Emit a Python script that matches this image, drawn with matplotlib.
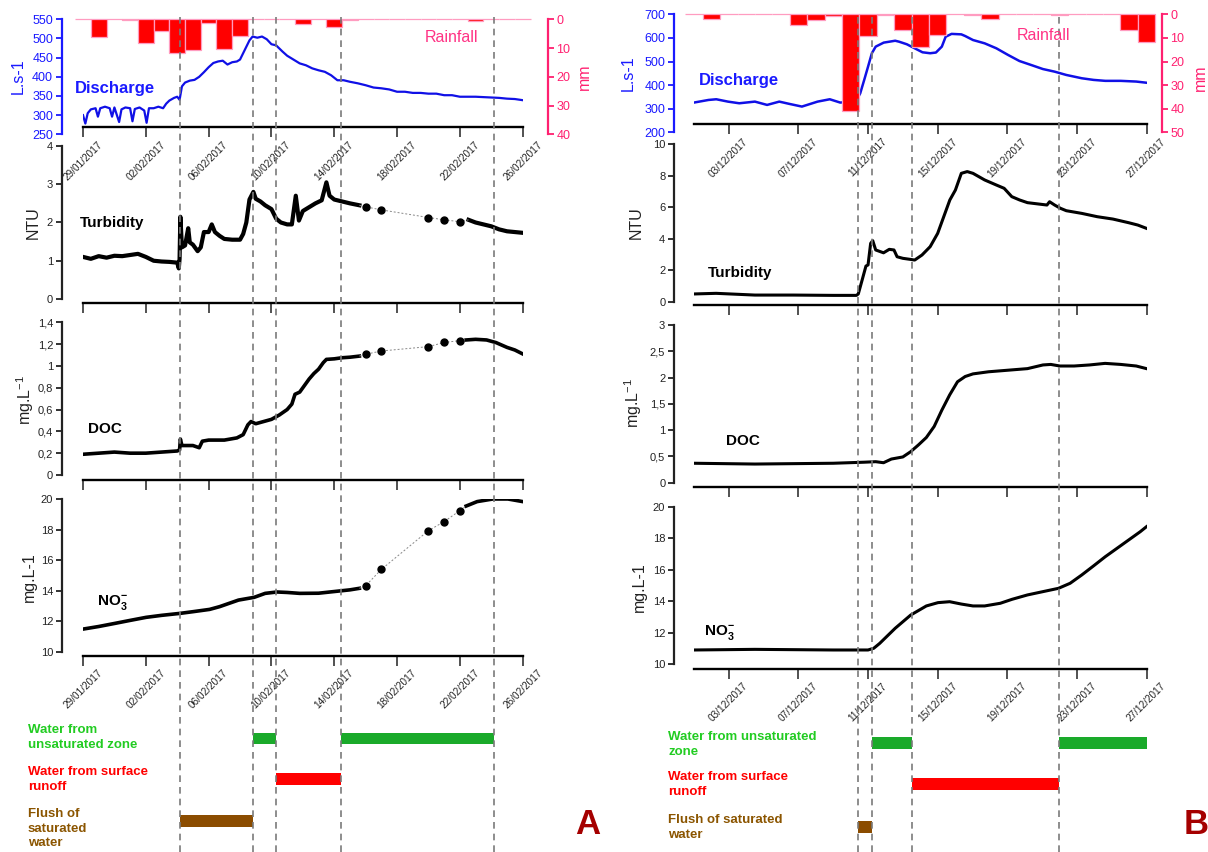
import matplotlib
matplotlib.use('Agg')
import matplotlib.pyplot as plt
import numpy as np

plt.rcParams['font.family'] = ['Liberation Sans', 'DejaVu Sans']
plt.rcParams['mathtext.fontset'] = 'custom'
plt.rcParams['mathtext.rm'] = 'Liberation Sans'
plt.rcParams['mathtext.bf'] = 'Liberation Sans:bold'
W, H = 1208, 852
fig = plt.figure(figsize=(W / 100, H / 100), dpi=100)

# ---------------- DATA : panel A (days since 29/01/2017) ----------------
ticks_A = [0, 4, 8, 12, 16, 20, 24, 28]
ticklabels_A = ['29/01/2017', '02/02/2017', '06/02/2017', '10/02/2017',
                '14/02/2017', '18/02/2017', '22/02/2017', '26/02/2017']
rain_A = [0, 6.0, 0, 0.2, 8.3, 4.0, 11.6, 10.6, 1.2, 10.2, 5.7, 0, 0, 0, 1.5,
          0, 2.6, 0.3, 0, 0, 0, 0, 0, 0, 0, 0.6, 0, 0, 0]
dis_A_day = [0, 0.15, 0.3, 0.5, 0.8, 0.95, 1.1, 1.4, 1.7, 1.85, 2.0, 2.3, 2.45, 2.7,
             3.0, 3.15, 3.3, 3.6, 3.9, 4.05, 4.2, 4.5, 4.8, 5.1, 5.3, 5.5, 5.8, 6.0,
             6.15, 6.3, 6.5, 6.8, 7.1, 7.4, 7.7, 8.0, 8.3, 8.6, 8.9, 9.2, 9.5, 9.8,
             10.0, 10.3, 10.6, 10.8, 11.1, 11.4, 11.7, 12.0, 12.3, 12.7, 13.0, 13.4,
             13.8, 14.2, 14.6, 15.0, 15.4, 15.8, 16.2, 16.6, 17.0, 17.5, 18.0, 18.5,
             19.0, 19.5, 20.0, 20.5, 21.0, 21.5, 22.0, 22.5, 23.0, 23.5, 24.0, 24.5,
             25.0, 25.5, 26.0, 26.5, 27.0, 27.5, 28.0]
dis_A = [300, 278, 305, 315, 318, 296, 318, 322, 318, 296, 320, 282, 315, 320,
         318, 284, 316, 320, 312, 280, 318, 318, 322, 318, 330, 338, 345, 348,
         340, 375, 385, 390, 392, 400, 412, 425, 436, 440, 442, 432, 438, 440,
         445, 470, 495, 505, 502, 505, 498, 485, 482, 466, 455, 445,
         435, 430, 422, 417, 413, 404, 391, 391, 387, 383, 378, 372,
         370, 367, 361, 361, 358, 358, 356, 356, 352, 352, 348, 348,
         348, 347, 346, 345, 343, 342, 339]

turb_A1_day = [0, 0.5, 1.0, 1.5, 2.0, 2.5, 3.0, 3.5, 4.0, 4.5, 5.0, 5.5, 6.0, 6.1,
               6.15, 6.2, 6.3, 6.5, 6.7, 6.8, 7.0, 7.3, 7.5, 7.7, 8.0, 8.2, 8.4,
               8.7, 9.0, 9.5, 10.0, 10.2, 10.4, 10.6, 10.85, 11.0, 11.3, 11.6, 12.0,
               12.3, 12.6, 13.0, 13.3, 13.55, 13.75, 14.0, 14.4, 14.8, 15.2, 15.5,
               15.7, 16.0, 16.5, 17.0, 17.6]
turb_A1 = [1.10, 1.05, 1.12, 1.08, 1.13, 1.12, 1.15, 1.18, 1.10, 1.00, 0.98, 0.97,
           0.95, 0.80, 1.05, 2.15, 1.35, 1.40, 1.85, 1.48, 1.42, 1.25, 1.35, 1.75,
           1.75, 1.95, 1.75, 1.65, 1.57, 1.55, 1.55, 1.70, 2.00, 2.60, 2.80, 2.62,
           2.55, 2.45, 2.35, 2.10, 2.00, 1.95, 1.95, 2.70, 2.05, 2.30, 2.40, 2.50,
           2.58, 3.05, 2.70, 2.60, 2.55, 2.50, 2.45]
sample_A_day = [18, 19, 22, 23, 24]
turb_A_samples = [2.41, 2.33, 2.13, 2.07, 2.02]
turb_A2_day = [24.55, 25.0, 25.5, 26.0, 26.5, 27.0, 27.5, 28.0]
turb_A2 = [2.07, 2.00, 1.95, 1.90, 1.82, 1.77, 1.75, 1.73]

doc_A1_day = [0, 1, 2, 3, 4, 5, 6.0, 6.15, 6.2, 6.3, 7.0, 7.4, 7.6, 8.0, 9.0, 9.8,
              10.2, 10.5, 10.7, 11.0, 11.5, 12.0, 12.5, 13.0, 13.3, 13.5, 13.8,
              14.1, 14.4, 14.7, 15.0, 15.3, 15.5, 16.0, 16.5, 17.0, 17.6]
doc_A1 = [0.19, 0.20, 0.21, 0.20, 0.20, 0.21, 0.22, 0.23, 0.33, 0.27, 0.27, 0.25,
          0.31, 0.32, 0.32, 0.34, 0.37, 0.46, 0.49, 0.47, 0.49, 0.51, 0.55, 0.60,
          0.65, 0.74, 0.76, 0.82, 0.88, 0.93, 0.97, 1.03, 1.06, 1.065, 1.075, 1.08,
          1.09]
doc_A_samples = [1.107, 1.137, 1.177, 1.215, 1.232]
doc_A2_day = [24.4, 25.0, 25.7, 26.3, 27.0, 27.5, 28.0]
doc_A2 = [1.238, 1.244, 1.238, 1.214, 1.17, 1.146, 1.11]

no3_A1_day = [0, 1, 2.06, 3, 4.02, 5, 6.18, 7, 8.06, 8.7, 9.9, 10.9, 11.6, 12.35,
              13.0, 13.8, 15.0, 16.27, 17.0, 17.6]
no3_A1 = [11.48, 11.65, 11.86, 12.05, 12.25, 12.38, 12.51, 12.62, 12.77, 12.95,
          13.38, 13.56, 13.82, 13.91, 13.88, 13.82, 13.83, 13.97, 14.05, 14.15]
no3_A_samples = [14.32, 15.39, 17.93, 18.52, 19.24]
no3_A2_day = [24.4, 25.1, 26.1, 27.06, 28.0]
no3_A2 = [19.54, 19.83, 20.0, 20.0, 19.83]

events_A = [6.15, 10.8, 12.3, 16.45, 26.2]

# ---------------- DATA : panel B (days since 01/12/2017) ----------------
ticks_B = [2, 6, 10, 14, 18, 22, 26]
ticklabels_B = ['03/12/2017', '07/12/2017', '11/12/2017', '15/12/2017',
                '19/12/2017', '23/12/2017', '27/12/2017']
rain_B = [0, 2.0, 0, 0, 0, 0, 4.7, 2.3, 0.6, 41, 9.2, 0.3, 6.5, 13.7, 8.6, 0,
          0.4, 1.8, 0, 0, 0, 0.3, 0, 0, 0, 6.8, 11.7]
dis_B_day = [0, 0.83, 1.28, 1.95, 2.6, 3.5, 4.2, 4.9, 5.5, 6.2, 7.1, 7.8, 8.4, 9.1,
             9.37, 9.55, 9.78, 10.0, 10.22, 10.44, 10.9, 11.56, 11.78, 12.23, 12.68,
             13.13, 13.57, 13.9, 14.24, 14.46, 14.8, 15.36, 15.58, 16.03, 16.7,
             17.37, 18.04, 18.7, 19.38, 20.05, 20.72, 21.39, 22.28, 22.96, 23.63,
             24.52, 25.41, 26.0]
dis_B = [326, 337, 340, 330, 323, 330, 316, 330, 320, 309, 330, 340, 326, 330,
         340, 365, 422, 478, 535, 563, 580, 588, 584, 573, 556,
         539, 535, 538, 563, 605, 617, 615, 608, 591, 577,
         556, 528, 502, 485, 468, 457, 443, 429, 422, 418,
         418, 415, 410]
turb_B_day = [0, 1.27, 3.5, 5.7, 8.0, 9.33, 9.44, 9.66, 9.88, 10.0, 10.15, 10.27,
              10.44, 10.89, 11.22, 11.49, 11.67, 12.0, 12.45, 12.68, 13.1, 13.57,
              14.0, 14.35, 14.7, 15.02, 15.36, 15.7, 16.03, 16.7, 17.37, 17.82,
              18.26, 18.71, 19.16, 19.83, 20.28, 20.43, 20.72, 21.06, 21.39, 22.28,
              23.17, 24.07, 24.97, 25.5, 26.0]
turb_B = [0.49, 0.53, 0.42, 0.42, 0.40, 0.40, 0.49, 1.37, 2.26, 2.33, 3.7, 3.87,
          3.28, 3.1, 3.32, 3.28, 2.85, 2.75, 2.68, 2.64, 2.96, 3.49,
          4.33, 5.39, 6.45, 7.08, 8.14, 8.25, 8.14, 7.72, 7.4, 7.19,
          6.66, 6.45, 6.28, 6.19, 6.13, 6.34, 6.13, 5.92, 5.77, 5.6,
          5.39, 5.24, 5.01, 4.86, 4.65]
doc_B_day = [0, 3.5, 8.0, 9.78, 10.44, 10.89, 11.34, 12.0, 12.45, 12.9, 13.35, 13.8,
             14.24, 14.69, 15.14, 15.58, 16.03, 16.92, 18.04, 19.16, 20.05, 20.5,
             21.02, 21.84, 22.73, 23.62, 24.52, 25.41, 26.0]
doc_B = [0.37, 0.355, 0.37, 0.39, 0.40, 0.38, 0.45, 0.49, 0.59, 0.72, 0.86, 1.07,
         1.38, 1.67, 1.92, 2.02, 2.07, 2.11, 2.14, 2.17, 2.24, 2.25,
         2.22, 2.22, 2.24, 2.27, 2.25, 2.22, 2.17]
no3_B_day = [0, 3.5, 8.0, 10.0, 10.33, 10.67, 11.56, 12.45, 13.35, 14.02, 14.69,
             15.36, 16.03, 16.7, 17.6, 18.27, 19.16, 20.05, 20.94, 21.61, 22.28,
             22.95, 23.63, 24.3, 24.97, 25.64, 26.0]
no3_B = [10.89, 10.93, 10.89, 10.89, 11.0, 11.31, 12.27, 13.11, 13.69, 13.9, 13.96,
         13.81, 13.69, 13.69, 13.86, 14.11, 14.39, 14.6, 14.81, 15.13, 15.66,
         16.23, 16.82, 17.35, 17.88, 18.41, 18.73]
events_B = [9.44, 10.22, 12.5, 21.0]

# ---------------- helpers ----------------
BLUE = '#1a1aff'
PINK = '#ff2070'
DARK = '#222222'
GREEN_BAR, GREEN_TXT = '#1aaa2a', '#22cc22'
RED = '#ff0000'
BROWN_BAR, BROWN_TXT = '#8b4c00', '#8b5500'


def box(x0, y0, x1, y1):
    return [x0 / W, 1 - y1 / H, (x1 - x0) / W, (y1 - y0) / H]


def ftext(x, y, s, **kw):
    fig.text(x / W, 1 - y / H, s, **kw)


def make_axes(rect, xmax, ylim, yticks, yticklabels, out_px, color=DARK, lsize=8):
    ax = fig.add_axes(box(*rect))
    ax.set_xlim(0, xmax)
    ax.set_ylim(*ylim)
    ax.patch.set_alpha(0)
    for s in ('top', 'right'):
        ax.spines[s].set_visible(False)
    ax.spines['left'].set_position(('outward', out_px * 0.72))
    ax.spines['left'].set_bounds(yticks[0], yticks[-1])
    ax.spines['left'].set_color(color)
    ax.spines['left'].set_linewidth(1.6)
    ax.set_yticks(yticks)
    ax.set_yticklabels(yticklabels)
    ax.tick_params(axis='y', colors=color, labelsize=lsize, length=4, width=1.3, pad=2)
    ax.spines['bottom'].set_bounds(0, xmax)
    ax.spines['bottom'].set_linewidth(1.7)
    ax.tick_params(axis='x', length=7, width=1.1, labelsize=7.2, pad=2, colors=DARK)
    return ax


def set_dates(ax, ticks, labels, show):
    ax.set_xticks(ticks)
    if show:
        ax.set_xticklabels(labels, rotation=45, ha='center', va='top')
    else:
        ax.tick_params(axis='x', labelbottom=False)


def rain_axis(ax, rain, top, out_px):
    axr = ax.twinx()
    axr.set_ylim(top, 0)
    for s in ('top', 'left', 'bottom'):
        axr.spines[s].set_visible(False)
    axr.spines['right'].set_position(('outward', out_px * 0.72))
    axr.spines['right'].set_color(PINK)
    axr.spines['right'].set_linewidth(1.6)
    axr.set_yticks(np.arange(0, top + 1, 10))
    axr.tick_params(axis='y', colors=PINK, labelsize=9, length=4, width=1.3, pad=2)
    axr.bar(np.arange(len(rain)), rain, width=1.0, color=RED, edgecolor='#ff9cc0',
            linewidth=0.9, clip_on=False)
    return axr


def sampled(ax, d1, v1, ds, vs, d2, v2, lw):
    ax.plot(d1, v1, color='black', lw=lw, solid_joinstyle='round')
    ax.plot(d2, v2, color='black', lw=lw, solid_joinstyle='round')
    ax.plot([d1[-1]] + list(ds) + [d2[0]], [v1[-1]] + list(vs) + [v2[0]],
            color='#888888', lw=0.7, ls=(0, (2, 2)))
    ax.plot(ds, vs, 'o', color='black', ms=5)


# ================= PANEL A =================
xa0, xa1 = 83, 522.7
axA0 = make_axes((xa0, 19.3, xa1, 134.3), 28, (250, 550), list(range(250, 551, 50)),
                 [str(v) for v in range(250, 551, 50)], 21.5, color=BLUE, lsize=9)
axA0.spines['bottom'].set_position(('data', 269))
set_dates(axA0, ticks_A, ticklabels_A, True)
axA0.plot(dis_A_day, dis_A, color='#1010e6', lw=1.6)
rain_axis(axA0, rain_A, 40, 25.3)

axA1 = make_axes((xa0, 146, xa1, 303), 28, (-0.105, 4), [0, 1, 2, 3, 4],
                 ['0', '1', '2', '3', '4'], 21.5)
set_dates(axA1, ticks_A, ticklabels_A, False)
sampled(axA1, turb_A1_day, turb_A1, sample_A_day, turb_A_samples, turb_A2_day, turb_A2, 3.0)

doc_ticks_A = [0, 0.2, 0.4, 0.6, 0.8, 1.0, 1.2, 1.4]
axA2 = make_axes((xa0, 322.3, xa1, 480), 28, (-0.046, 1.4), doc_ticks_A,
                 ['0', '0,2', '0,4', '0,6', '0,8', '1', '1,2', '1,4'], 21.5)
set_dates(axA2, ticks_A, ticklabels_A, False)
sampled(axA2, doc_A1_day, doc_A1, sample_A_day, doc_A_samples, doc_A2_day, doc_A2, 2.6)

axA3 = make_axes((xa0, 499, xa1, 655.7), 28, (9.738, 20), [10, 12, 14, 16, 18, 20],
                 ['10', '12', '14', '16', '18', '20'], 21.5)
set_dates(axA3, ticks_A, ticklabels_A, True)
sampled(axA3, no3_A1_day, no3_A1, sample_A_day, no3_A_samples, no3_A2_day, no3_A2, 2.6)

# ================= PANEL B =================
xb0, xb1 = 694, 1146.5
axB0 = make_axes((xb0, 14.3, xb1, 132.3), 26, (200, 700), list(range(200, 701, 100)),
                 [str(v) for v in range(200, 701, 100)], 20.4, color=BLUE, lsize=9)
axB0.spines['bottom'].set_position(('data', 235))
set_dates(axB0, ticks_B, ticklabels_B, True)
axB0.plot(dis_B_day, dis_B, color='#1010e6', lw=1.8)
rain_axis(axB0, rain_B, 50, 15.5)

axB1 = make_axes((xb0, 144, xb1, 305), 26, (-0.21, 10), [0, 2, 4, 6, 8, 10],
                 ['0', '2', '4', '6', '8', '10'], 20.4)
set_dates(axB1, ticks_B, ticklabels_B, False)
axB1.plot(turb_B_day, turb_B, color='black', lw=2.2)

axB2 = make_axes((xb0, 325, xb1, 486.7), 26, (-0.076, 3), [0, 0.5, 1, 1.5, 2, 2.5, 3],
                 ['0', '0,5', '1', '1,5', '2', '2,5', '3'], 20.4)
set_dates(axB2, ticks_B, ticklabels_B, False)
axB2.plot(doc_B_day, doc_B, color='black', lw=2.2)

axB3 = make_axes((xb0, 506.7, xb1, 668.7), 26, (9.70, 20), [10, 12, 14, 16, 18, 20],
                 ['10', '12', '14', '16', '18', '20'], 20.4)
set_dates(axB3, ticks_B, ticklabels_B, True)
axB3.plot(no3_B_day, no3_B, color='black', lw=2.2)

# ================= timelines =================
def timeline(x0, x1, xmax, events, rows, last):
    ax = fig.add_axes(box(x0, 720, x1, 852))
    ax.set_xlim(0, xmax)
    ax.set_ylim(852, 720)
    ax.axis('off')
    (yg, yr, yb, h) = rows
    ev = list(events) + [last]
    ax.barh(yb, ev[1] - ev[0], left=ev[0], height=h, color=BROWN_BAR)
    ax.barh([yg, yg], [ev[2] - ev[1], ev[4] - ev[3]], left=[ev[1], ev[3]],
            height=h, color=GREEN_BAR)
    ax.barh(yr, ev[3] - ev[2], left=ev[2], height=h, color=RED)


timeline(xa0, xa1, 28, events_A[:4], (738.4, 779, 821, 11.5), events_A[4])
timeline(xb0, xb1, 26, events_B, (743, 784, 827, 12.5), 26)

# ================= dashed event lines =================
def event_lines(x0, x1, xmax, events, top):
    ax = fig.add_axes(box(x0, top, x1, 852))
    ax.set_xlim(0, xmax)
    ax.set_ylim(0, 1)
    ax.axis('off')
    for e in events:
        ax.axvline(e, color='#7a7a7a', lw=1.2, ls=(0, (4, 3)))


event_lines(xa0, xa1, 28, events_A, 15)
event_lines(xb0, xb1, 26, events_B, 15)

# ================= texts =================
bold = dict(fontweight='bold')
ftext(75, 88, 'Discharge', color=BLUE, fontsize=12, va='center', **bold)
ftext(699, 80, 'Discharge', color=BLUE, fontsize=12, va='center', **bold)
ftext(425, 38, 'Rainfall', color='#ff3385', fontsize=11.5, va='center')
ftext(1017, 35, 'Rainfall', color='#ff3385', fontsize=11.5, va='center')
ftext(80, 223, 'Turbidity', color='black', fontsize=11, va='center', **bold)
ftext(708, 273, 'Turbidity', color='black', fontsize=11, va='center', **bold)
ftext(88, 429, 'DOC', color='black', fontsize=11, va='center', **bold)
ftext(726, 441, 'DOC', color='black', fontsize=11, va='center', **bold)
ftext(97, 603, r'NO$_\mathbf{3}^{\mathbf{-}}$', color='black', fontsize=11, va='center', **bold)
ftext(704, 632, r'NO$_\mathbf{3}^{\mathbf{-}}$', color='black', fontsize=11, va='center', **bold)

ylab = dict(rotation=90, ha='center', va='center', fontsize=11.5)
ftext(18, 76, 'L.s-1', color=BLUE, **ylab)
ftext(584, 77, 'mm', color=PINK, **ylab)
ftext(628, 73, 'L.s-1', color=BLUE, **ylab)
ftext(1200, 78, 'mm', color=PINK, **ylab)
ftext(33, 223, 'NTU', color=DARK, **ylab)
ftext(636, 223, 'NTU', color=DARK, **ylab)
ftext(25, 400, r'mg.L$^{\mathrm{-1}}$', color=DARK, **ylab)
ftext(633, 403, r'mg.L$^{\mathrm{-1}}$', color=DARK, **ylab)
ftext(29, 577, 'mg.L-1', color=DARK, **ylab)
ftext(639, 587, 'mg.L-1', color=DARK, **ylab)

tl = dict(fontsize=9.5, fontweight='bold', va='top', ha='left', linespacing=1.3)
ftext(28, 724, 'Water from\nunsaturated zone', color=GREEN_TXT, **tl)
ftext(28, 766, 'Water from surface\nrunoff', color=RED, **tl)
ftext(28, 808, 'Flush of\nsaturated\nwater', color=BROWN_TXT, **tl)
ftext(668, 731, 'Water from unsaturated\nzone', color=GREEN_TXT, **tl)
ftext(668, 771, 'Water from surface\nrunoff', color=RED, **tl)
ftext(668, 814, 'Flush of saturated\nwater', color=BROWN_TXT, **tl)

ftext(588, 825, 'A', color='#a50000', fontsize=25, fontweight='bold', ha='center', va='center')
ftext(1196, 825, 'B', color='#a50000', fontsize=25, fontweight='bold', ha='center', va='center')

fig.savefig('out.png', dpi=100)
